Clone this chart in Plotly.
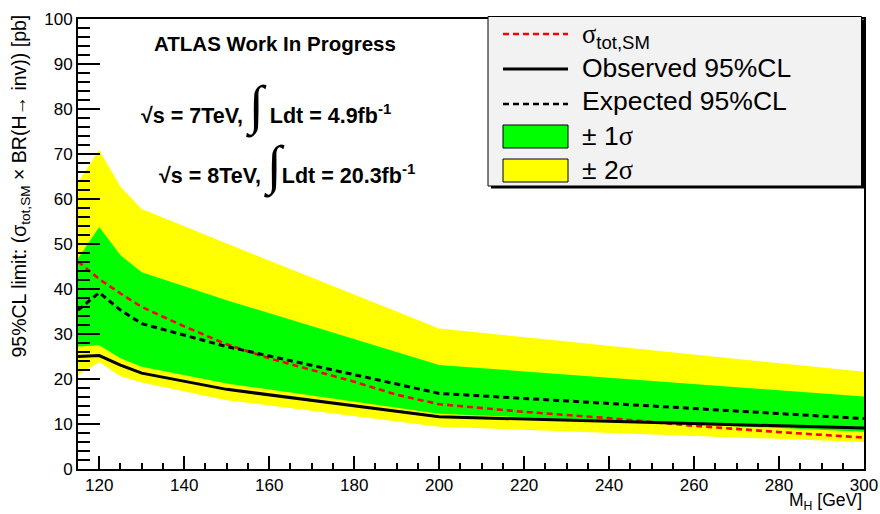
import plotly.graph_objects as go

# ---------------- data ----------------
mass = [115, 120, 125, 130, 150, 200, 300]
observed = [25.0, 25.2, 23.1, 21.3, 17.7, 11.6, 9.1]
expected = [35.3, 39.2, 35.3, 32.3, 27.2, 16.8, 11.2]
band1_lo = [27.2, 27.5, 24.6, 22.7, 19.0, 12.3, 8.3]
band1_hi = [46.8, 53.8, 47.5, 43.7, 37.5, 23.1, 16.1]
band2_lo = [20.9, 23.8, 20.6, 19.2, 15.3, 9.4, 6.0]
band2_hi = [63.8, 70.9, 62.7, 57.8, 50.1, 31.2, 21.6]

sm_mass = [115, 120, 125, 130, 140, 150, 160, 170, 180, 190, 200, 220, 240, 260, 280, 300]
sm_xsec = [46.1, 42.2, 39.0, 36.0, 31.7, 27.7, 24.6, 22.0, 19.4, 16.5, 14.4, 12.7, 11.3, 9.6, 8.2, 7.0]

x_ticks = [120, 140, 160, 180, 200, 220, 240, 260, 280, 300]
y_ticks = [0, 10, 20, 30, 40, 50, 60, 70, 80, 90, 100]

legend_labels = ["σ<sub>tot,SM</sub>", "Observed 95%CL", "Expected 95%CL", "± 1σ", "± 2σ"]

# ---------------- layout geometry (pixels) ----------------
W, H = 880, 514
L, R, T, B = 78, 864, 19, 469
FONT = "Liberation Sans, Arial, Helvetica, sans-serif"
SERIF = "Liberation Serif, Times New Roman, serif"


def px(x):
    return (x - L) / (R - L)


def py(y):
    return (B - y) / (B - T)


fig = go.Figure()

# 2 sigma band
fig.add_trace(go.Scatter(
    x=mass + mass[::-1], y=band2_hi + band2_lo[::-1],
    fill="toself", fillcolor="#ffff00", line=dict(width=0, color="#ffff00"),
    mode="lines", showlegend=False, hoverinfo="skip"))
# 1 sigma band
fig.add_trace(go.Scatter(
    x=mass + mass[::-1], y=band1_hi + band1_lo[::-1],
    fill="toself", fillcolor="#00ff00", line=dict(width=0, color="#00ff00"),
    mode="lines", showlegend=False, hoverinfo="skip"))
# SM cross section
fig.add_trace(go.Scatter(
    x=sm_mass, y=sm_xsec, mode="lines",
    line=dict(color="#ff0000", width=2.6, dash="6px,4px"), showlegend=False))
# expected
fig.add_trace(go.Scatter(
    x=mass, y=expected, mode="lines",
    line=dict(color="black", width=3, dash="6px,4px"), showlegend=False))
# observed
fig.add_trace(go.Scatter(
    x=mass, y=observed, mode="lines",
    line=dict(color="black", width=3), showlegend=False))

shapes = []
annotations = []

# ---------------- legend (drawn manually, ROOT style) ----------------
lx0, ly0, lx1, ly1 = 488, 16.5, 861.5, 186
shapes.append(dict(type="rect", xref="paper", yref="paper",
                   x0=px(lx0 + 3), x1=px(lx1 + 2.5), y0=py(ly0 + 3), y1=py(ly1 + 2.5),
                   fillcolor="black", line=dict(width=0), layer="above"))
shapes.append(dict(type="rect", xref="paper", yref="paper",
                   x0=px(lx0), x1=px(lx1), y0=py(ly0), y1=py(ly1),
                   fillcolor="#f2f2f2", line=dict(color="black", width=1), layer="above"))

gx0, gx1 = 503, 568
rows = [34, 69, 104]
# red dashed
shapes.append(dict(type="line", xref="paper", yref="paper",
                   x0=px(gx0), x1=px(gx1), y0=py(rows[0]), y1=py(rows[0]),
                   line=dict(color="#ff0000", width=2.6, dash="6px,4px"), layer="above"))
# solid black
shapes.append(dict(type="line", xref="paper", yref="paper",
                   x0=px(gx0), x1=px(gx1), y0=py(rows[1]), y1=py(rows[1]),
                   line=dict(color="black", width=3), layer="above"))
# dashed black
shapes.append(dict(type="line", xref="paper", yref="paper",
                   x0=px(gx0), x1=px(gx1), y0=py(rows[2]), y1=py(rows[2]),
                   line=dict(color="black", width=2.6, dash="6px,4px"), layer="above"))
# green box
shapes.append(dict(type="rect", xref="paper", yref="paper",
                   x0=px(gx0), x1=px(gx1), y0=py(125), y1=py(148),
                   fillcolor="#00ff00", line=dict(color="black", width=1), layer="above"))
# yellow box
shapes.append(dict(type="rect", xref="paper", yref="paper",
                   x0=px(gx0), x1=px(gx1), y0=py(159), y1=py(182),
                   fillcolor="#ffff00", line=dict(color="black", width=1), layer="above"))

text_y = [36, 68, 101, 136, 170]
for lab, yy in zip(legend_labels, text_y):
    if "σ" in lab and "sub" in lab:
        txt = "<span style='font-family:%s'>σ</span><sub>tot,SM</sub>" % SERIF
    elif "σ" in lab:
        txt = lab.replace("σ", "<span style='font-family:%s'>σ</span>" % SERIF)
    else:
        txt = lab
    annotations.append(dict(xref="paper", yref="paper", x=px(580), y=py(yy),
                            xanchor="left", yanchor="middle", showarrow=False,
                            text=txt, font=dict(family=FONT, size=26.5, color="black")))

# ---------------- plot texts ----------------
annotations.append(dict(xref="paper", yref="paper", x=px(152), y=py(43),
                        xanchor="left", yanchor="middle", showarrow=False,
                        text="<b>ATLAS Work In Progress</b>",
                        font=dict(family=FONT, size=20.5, color="black")))
integral = "<span style='font-family:%s;font-size:54px;font-weight:normal'>∫</span>" % SERIF
annotations.append(dict(xref="paper", yref="paper", x=px(139), y=py(106),
                        xanchor="left", yanchor="middle", showarrow=False,
                        text="<b>√s = 7TeV, </b>" + integral + "<b> Ldt = 4.9fb<sup>-1</sup></b>",
                        font=dict(family=FONT, size=21.5, color="black")))
annotations.append(dict(xref="paper", yref="paper", x=px(157), y=py(166),
                        xanchor="left", yanchor="middle", showarrow=False,
                        text="<b>√s = 8TeV, </b>" + integral + "<b>Ldt = 20.3fb<sup>-1</sup></b>",
                        font=dict(family=FONT, size=21.5, color="black")))

# axis titles
annotations.append(dict(xref="paper", yref="paper", x=px(20), y=py(13),
                        xanchor="center", yanchor="top", showarrow=False, textangle=-90,
                        text="95%CL limit: (σ<sub>tot,SM</sub> × BR(H→ inv)) [pb]",
                        font=dict(family=FONT, size=19.5, color="black")))
annotations.append(dict(xref="paper", yref="paper", x=px(864), y=py(502),
                        xanchor="right", yanchor="middle", showarrow=False,
                        text="M<sub>H</sub> [GeV]",
                        font=dict(family=FONT, size=17.5, color="black")))

fig.update_layout(
    width=W, height=H,
    margin=dict(l=L, r=W - R, t=T, b=H - B, pad=0, autoexpand=False),
    paper_bgcolor="white", plot_bgcolor="white",
    shapes=shapes, annotations=annotations,
    font=dict(family=FONT, color="black"),
    xaxis=dict(range=[115, 300], tickmode="array", tickvals=x_ticks,
               ticktext=[str(v) for v in x_ticks],
               ticks="inside", ticklen=13, tickwidth=1.5, tickcolor="black",
               minor=dict(ticks="inside", ticklen=6, dtick=5, tick0=115,
                          tickwidth=1.5, tickcolor="black", showgrid=False),
               showline=True, linecolor="black", linewidth=2, mirror=True,
               showgrid=False, zeroline=False,
               tickfont=dict(family=FONT, size=17, color="black")),
    yaxis=dict(range=[0, 100], tickmode="array", tickvals=y_ticks,
               ticktext=[str(v) for v in y_ticks],
               ticks="inside", ticklen=22, tickwidth=1.5, tickcolor="black",
               minor=dict(ticks="inside", ticklen=12, dtick=2, tick0=0,
                          tickwidth=1.5, tickcolor="black", showgrid=False),
               showline=True, linecolor="black", linewidth=2, mirror=True,
               showgrid=False, zeroline=False,
               tickfont=dict(family=FONT, size=17, color="black")),
)

fig.write_html("out.html")
